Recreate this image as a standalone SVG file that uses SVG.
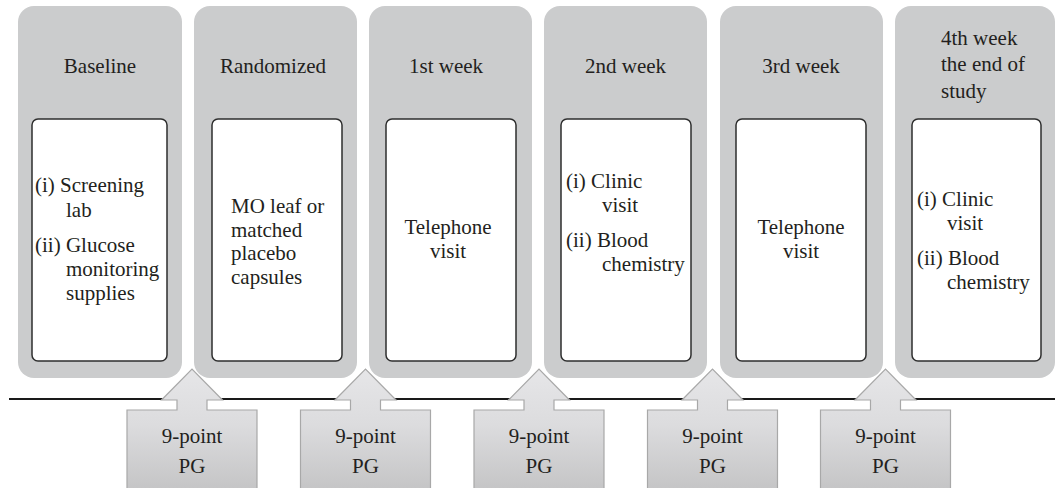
<svg xmlns="http://www.w3.org/2000/svg" xmlns:xlink="http://www.w3.org/1999/xlink" width="1055" height="488" viewBox="0 0 1055 488">
<style>
text{font-size:21px;fill:#231f20}
.col{fill:#cbcccd}
.box{fill:#fff;stroke:#2e2e2e;stroke-width:1.5}
.c{text-anchor:middle}
.pg{fill:url(#pgGrad);stroke:#a8a8a8;stroke-width:1.2}
</style>
<defs>
<linearGradient id="pgGrad" x1="0" y1="0" x2="0" y2="1">
<stop offset="0" stop-color="#e6e6e8"/>
<stop offset="0.45" stop-color="#dcdcde"/>
<stop offset="1" stop-color="#c4c4c5"/>
</linearGradient>
<path id="callout" d="M-65,492 V410 H-15 V400 H-30.5 L0,369 L30.5,400 H15 V410 H65 V492 Z"/>
</defs>
<g font-family="'Liberation Serif', 'DejaVu Serif', serif">
<g id="baseline">
<rect class="col" x="18" y="6" width="164" height="372" rx="16"/>
<rect class="box" x="32" y="119" width="135" height="242" rx="6"/>
<text x="100" y="73" class="c">Baseline</text>
<text x="35" y="192">(i) Screening</text>
<text x="66" y="216.5">lab</text>
<text x="35" y="252">(ii) Glucose</text>
<text x="66" y="276">monitoring</text>
<text x="66" y="300">supplies</text>
</g>

<g id="randomized">
<rect class="col" x="194" y="6" width="163" height="372" rx="16"/>
<rect class="box" x="212" y="119" width="130" height="242" rx="6"/>
<text x="273" y="73" class="c">Randomized</text>
<text x="231" y="213">MO leaf or</text>
<text x="231" y="236.5">matched</text>
<text x="231" y="260">placebo</text>
<text x="231" y="283.5">capsules</text>
</g>

<g id="week1">
<rect class="col" x="369" y="6" width="163" height="372" rx="16"/>
<rect class="box" x="386" y="119" width="130" height="242" rx="6"/>
<text x="446" y="73" class="c">1st week</text>
<text x="448" y="234" class="c">Telephone</text>
<text x="448" y="258" class="c">visit</text>
</g>

<g id="week2">
<rect class="col" x="544" y="6" width="163" height="372" rx="16"/>
<rect class="box" x="561" y="119" width="130" height="242" rx="6"/>
<text x="625.5" y="73" class="c">2nd week</text>
<text x="566" y="188">(i) Clinic</text>
<text x="602" y="212">visit</text>
<text x="566" y="247">(ii) Blood</text>
<text x="602" y="271">chemistry</text>
</g>

<g id="week3">
<rect class="col" x="720" y="6" width="163" height="372" rx="16"/>
<rect class="box" x="736" y="119" width="130" height="242" rx="6"/>
<text x="801" y="73" class="c">3rd week</text>
<text x="801" y="234" class="c">Telephone</text>
<text x="801" y="258" class="c">visit</text>
</g>

<g id="week4">
<rect class="col" x="895" y="6" width="160" height="372" rx="16"/>
<rect class="box" x="912" y="119" width="129" height="242" rx="6"/>
<text x="941" y="44.5">4th week</text>
<text x="941" y="71">the end of</text>
<text x="941" y="97.5">study</text>
<text x="917" y="206">(i) Clinic</text>
<text x="947" y="230">visit</text>
<text x="917" y="265">(ii) Blood</text>
<text x="947" y="289">chemistry</text>
</g>

<g id="connectors">
<line x1="9" y1="399" x2="1055" y2="399" stroke="#1a1a1a" stroke-width="2"/>
</g>

<g id="pg1" transform="translate(192,0)">
<use xlink:href="#callout" class="pg"/>
<text x="0" y="443" class="c">9-point</text>
<text x="0" y="473" class="c">PG</text>
</g>
<g id="pg2" transform="translate(365.5,0)">
<use xlink:href="#callout" class="pg"/>
<text x="0" y="443" class="c">9-point</text>
<text x="0" y="473" class="c">PG</text>
</g>
<g id="pg3" transform="translate(539,0)">
<use xlink:href="#callout" class="pg"/>
<text x="0" y="443" class="c">9-point</text>
<text x="0" y="473" class="c">PG</text>
</g>
<g id="pg4" transform="translate(712.5,0)">
<use xlink:href="#callout" class="pg"/>
<text x="0" y="443" class="c">9-point</text>
<text x="0" y="473" class="c">PG</text>
</g>
<g id="pg5" transform="translate(885.5,0)">
<use xlink:href="#callout" class="pg"/>
<text x="0" y="443" class="c">9-point</text>
<text x="0" y="473" class="c">PG</text>
</g>
</g>
</svg>
